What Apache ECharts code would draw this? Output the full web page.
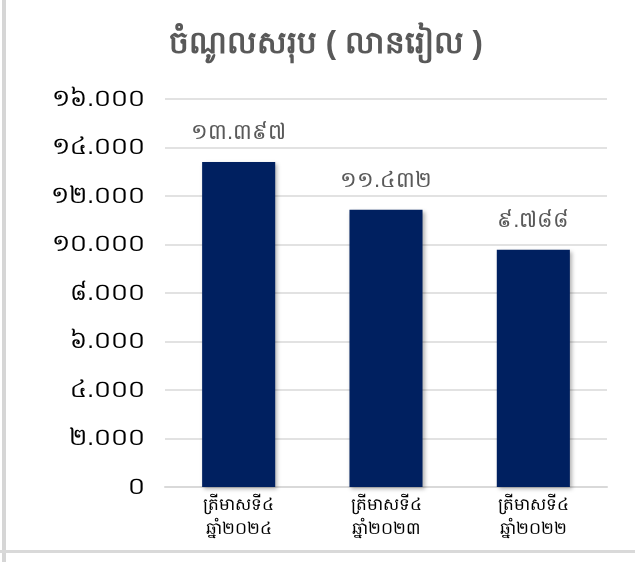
<!DOCTYPE html>
<html>
<head>
<meta charset="utf-8">
<script src="https://cdn.jsdelivr.net/npm/echarts@6/dist/echarts.min.js"></script>
<style>
html,body{margin:0;padding:0;background:#fff;overflow:hidden;}
#wrap{position:relative;width:635px;height:562px;}
#main{position:absolute;left:0;top:0;width:635px;height:562px;}
</style>
</head>
<body>
<div id="wrap">
<div id="main"></div>
</div>
<script>
var titleText = 'ចំណូលសរុប ( លានរៀល )';
var categories = ['ត្រីមាសទី៤\nឆ្នាំ២០២៤', 'ត្រីមាសទី៤\nឆ្នាំ២០២៣', 'ត្រីមាសទី៤\nឆ្នាំ២០២២'];
var values = [13397, 11432, 9788];
var yTicks = [0, 2000, 4000, 6000, 8000, 10000, 12000, 14000, 16000];

var khDigits = ['០','១','២','៣','៤','៥','៦','៧','៨','៩'];
function toKhmer(n) {
  var s = String(Math.round(n)).replace(/\B(?=(\d{3})+(?!\d))/g, '.');
  return s.replace(/\d/g, function (d) { return khDigits[+d]; });
}

var chart = echarts.init(document.getElementById('main'));
chart.setOption({
  backgroundColor: '#ffffff',
  animation: false,
  title: {
    text: titleText,
    left: 321,
    textAlign: 'center',
    top: 24,
    textStyle: { fontSize: 31, fontWeight: 900, color: '#595959' }
  },
  grid: { left: 165, right: 28, top: 99, bottom: 75 },
  xAxis: {
    type: 'category',
    data: categories,
    axisLine: { lineStyle: { color: '#d9d9d9', width: 2 } },
    axisTick: { show: false },
    axisLabel: { color: '#000', fontSize: 17, lineHeight: 24, margin: 6 }
  },
  yAxis: {
    type: 'value',
    min: yTicks[0],
    max: yTicks[yTicks.length - 1],
    interval: 2000,
    axisLine: { show: false },
    axisTick: { show: false },
    splitLine: { lineStyle: { color: '#d9d9d9', width: 1.5 } },
    axisLabel: {
      color: '#000', fontSize: 24, margin: 20,
      formatter: function (v) { return toKhmer(v); }
    }
  },
  series: [{
    type: 'bar',
    data: values,
    barWidth: '49.6%',
    itemStyle: {
      color: '#002060',
      shadowColor: 'rgba(0,0,0,0.3)', shadowBlur: 4, shadowOffsetX: 2, shadowOffsetY: 2
    },
    label: {
      show: true, position: 'top', distance: 18,
      color: '#595959', fontSize: 22,
      formatter: function (p) { return toKhmer(p.value); }
    }
  }],
  graphic: [
    { type: 'rect', left: 2, top: 0, shape: { width: 4, height: 562 }, style: { fill: '#d6d6d6' }, z: 200, silent: true },
    { type: 'rect', left: 0, top: 550, shape: { width: 635, height: 3 }, style: { fill: '#d9d9d9' }, z: 200, silent: true }
  ]
});
</script>
</body>
</html>
